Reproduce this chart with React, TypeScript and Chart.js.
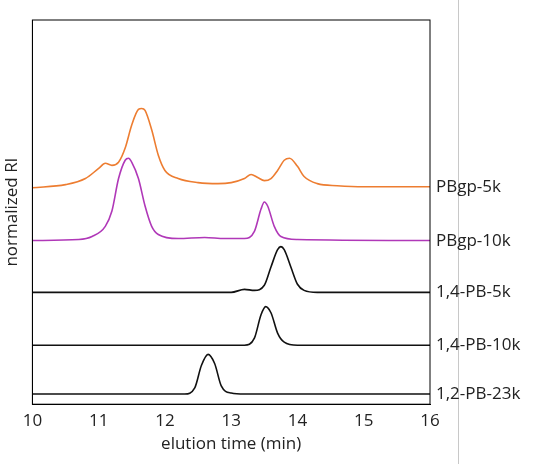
import React, { useEffect, useRef } from 'react';
import { Chart, registerables } from 'chart.js';

Chart.register(...registerables);

// traces as (elution time, stacked signal) pairs
const orangeX = [10, 10.5, 10.8, 11.0, 11.1, 11.2, 11.3, 11.4, 11.5, 11.6, 11.65, 11.7, 11.8, 11.9, 12.0, 12.2, 12.5, 12.8, 13.0, 13.2, 13.3, 13.4, 13.5, 13.6, 13.7, 13.8, 13.88, 14.0, 14.1, 14.3, 14.6, 15, 16];
const orangeY = [213, 216, 222, 232, 237, 235, 238, 252, 275, 290, 291, 289, 270, 245, 230, 222, 218, 217, 218, 222, 226, 223, 220, 222, 230, 240, 242, 234, 224, 217, 215, 214, 214];
const purpleX = [10, 10.7, 10.9, 11.1, 11.2, 11.3, 11.4, 11.45, 11.5, 11.6, 11.7, 11.8, 11.9, 12.2, 12.6, 12.9, 13.2, 13.35, 13.45, 13.5, 13.55, 13.65, 13.75, 14, 16];
const purpleY = [161, 162, 165, 175, 190, 222, 240, 242, 238, 222, 195, 175, 167, 163, 164, 163, 163, 170, 192, 199, 195, 175, 165, 162, 161];
const pb5X = [10, 13.0, 13.2, 13.35, 13.5, 13.6, 13.7, 13.75, 13.8, 13.9, 14.0, 14.1, 14.3, 16];
const pb5Y = [110, 110, 113, 112, 117, 135, 152, 155, 152, 135, 118, 112, 110, 110];
const pb10X = [10, 13.2, 13.35, 13.45, 13.52, 13.6, 13.7, 13.8, 14, 16];
const pb10Y = [58, 58, 65, 88, 96, 90, 70, 61, 58, 58];
const pb23X = [10, 12.3, 12.45, 12.55, 12.65, 12.75, 12.85, 13, 13.2, 16];
const pb23Y = [10, 10, 16, 38, 49, 40, 18, 11, 10, 10];

const labels = ['PBgp-5k', 'PBgp-10k', '1,4-PB-5k', '1,4-PB-10k', '1,2-PB-23k'];
const labelY = [214, 160, 110, 58, 10];
const xTicks = [10, 11, 12, 13, 14, 15, 16];

const FONT = '"Open Sans", Lato, sans-serif';

const pts = (xs: number[], ys: number[]) => xs.map((x, i) => ({ x, y: ys[i] }));

const extras = {
  id: 'extras',
  afterDraw(chart: any) {
    const { ctx, chartArea: a, scales } = chart;
    ctx.save();
    ctx.strokeStyle = '#000';
    ctx.lineWidth = 1;
    ctx.strokeRect(a.left, a.top, a.right - a.left, a.bottom - a.top);
    ctx.strokeStyle = '#c8c8c8';
    ctx.beginPath();
    ctx.moveTo(458.5, 0);
    ctx.lineTo(458.5, chart.height);
    ctx.stroke();
    ctx.fillStyle = '#222';
    ctx.font = `17px ${FONT}`;
    ctx.textBaseline = 'middle';
    labels.forEach((l, i) => {
      ctx.fillText(l, a.right + 6, scales.y.getPixelForValue(labelY[i]));
    });
    ctx.restore();
  },
};

const App: React.FC = () => {
  const ref = useRef<HTMLCanvasElement>(null);
  useEffect(() => {
    if (!ref.current) return;
    const ds = (xs: number[], ys: number[], color: string) => ({
      data: pts(xs, ys),
      borderColor: color,
      borderWidth: 1.6,
      pointRadius: 0,
      cubicInterpolationMode: 'monotone' as const,
    });
    const chart = new Chart(ref.current, {
      type: 'line',
      data: {
        datasets: [
          ds(orangeX, orangeY, '#ed7d31'),
          ds(purpleX, purpleY, '#b038b8'),
          ds(pb5X, pb5Y, '#111'),
          ds(pb10X, pb10Y, '#111'),
          ds(pb23X, pb23Y, '#111'),
        ],
      },
      options: {
        animation: false,
        responsive: false,
        layout: { padding: { top: 20, right: 128, left: 0, bottom: 10 } },
        plugins: { legend: { display: false }, tooltip: { enabled: false } },
        scales: {
          x: {
            type: 'linear',
            min: 10,
            max: 16,
            afterBuildTicks: (s: any) => { s.ticks = xTicks.map((v) => ({ value: v })); },
            grid: { display: false, drawTicks: true, tickLength: 5 },
            border: { color: '#000' },
            ticks: { color: '#222', font: { size: 17, family: FONT }, padding: 2 },
            title: { display: true, text: 'elution time (min)', color: '#222', font: { size: 17, family: FONT }, padding: 0 },
          },
          y: {
            min: 0,
            max: 378,
            grid: { display: false },
            border: { color: '#000' },
            ticks: { display: false },
            title: { display: true, text: 'normalized RI', color: '#222', font: { size: 17, family: FONT }, padding: 2 },
          },
        },
      },
      plugins: [extras],
    });
    return () => chart.destroy();
  }, []);
  return (
    <div style={{ position: 'fixed', left: 0, top: 0, width: 558, height: 464, background: '#fff' }}>
      <canvas ref={ref} width={558} height={464} />
    </div>
  );
};

export default App;
